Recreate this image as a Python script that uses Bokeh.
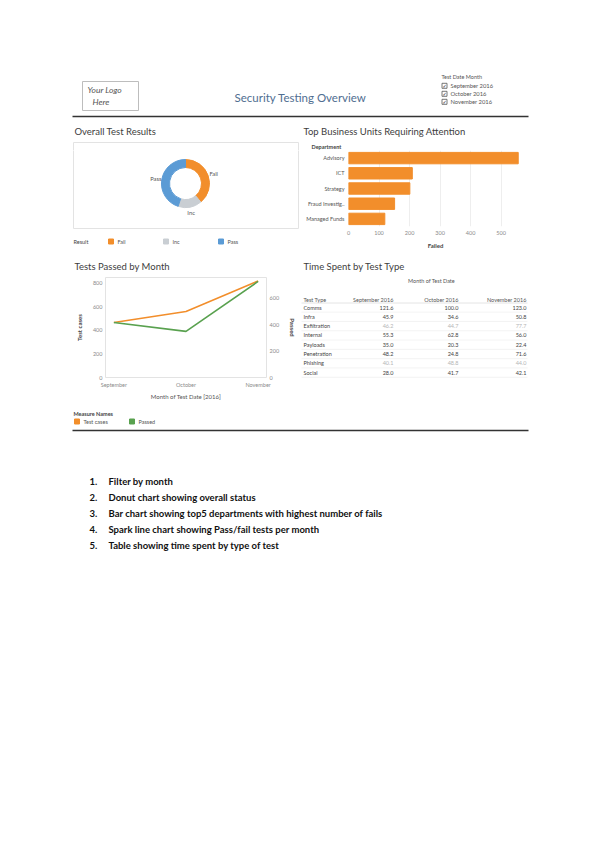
import math
from bokeh.plotting import figure
from bokeh.layouts import column, row, Spacer
from bokeh.models import (Range1d, FactorRange, ColumnDataSource, LinearAxis,
                          SingleIntervalTicker, FixedTicker)
from bokeh.core.properties import value
from bokeh.embed import file_html
from bokeh.resources import INLINE

# ---------------- data ----------------
dashboard_title = "Security Testing Overview"
filter_title = "Test Date Month"
filter_months = ["September 2016", "October 2016", "November 2016"]

results = ["Fail", "Inc", "Pass"]
result_counts = [1300, 530, 1500]

departments = ["Advisory", "ICT", "Strategy", "Fraud Investig..", "Managed Funds"]
failed = [556, 209, 201, 151, 119]

months = ["September", "October", "November"]
test_cases = [468, 562, 822]
passed = [418, 350, 729]

table_months = ["September 2016", "October 2016", "November 2016"]
test_types = ["Comms", "Infra", "Exfiltration", "Internal", "Payloads",
              "Penetration", "Phishing", "Social"]
time_sep = [121.6, 45.9, 46.2, 55.3, 35.0, 48.2, 40.1, 28.0]
time_oct = [100.0, 34.6, 44.7, 62.8, 20.3, 24.8, 48.8, 41.7]
time_nov = [123.0, 50.8, 77.7, 56.0, 22.4, 71.6, 44.0, 42.1]
faded_types = ["Exfiltration", "Phishing"]

notes = ["Filter by month",
         "Donut chart showing overall status",
         "Bar chart showing top5 departments with highest number of fails",
         "Spark line chart showing Pass/fail tests per month",
         "Table showing time spent by type of test"]

# ---------------- styles ----------------
FONT = "Lato"
ORANGE = "#F28E2B"
GREY = "#C9CED3"
BLUE = "#5B9BD5"
GREEN = "#59A14F"
result_colors = [ORANGE, GREY, BLUE]
TITLE_C = "#3d3d3d"
LABEL_C = "#555555"
TICK_C = "#8a8a8a"
BOX_C = "#e3e3e3"


def canvas(x0, x1, y0, y1):
    p = figure(width=x1 - x0, height=y1 - y0,
               x_range=Range1d(x0, x1), y_range=Range1d(-y1, -y0),
               x_axis_type=None, y_axis_type=None,
               toolbar_location=None, output_backend="svg", min_border=0)
    p.frame_align = False
    p.outline_line_color = None
    p.background_fill_color = "white"
    p.border_fill_color = "white"
    return p


def txt(p, x, y, s, size=6.0, color=LABEL_C, align="left", style="normal",
        font=FONT, angle=0.0):
    p.text(x=[x], y=[-y], text=[s], text_font=value(font),
           text_font_size=f"{size}px", text_color=color, text_align=align,
           text_baseline="middle", text_font_style=style, angle=angle)


def hline(p, x0, x1, y, color, width=1.0):
    p.segment(x0=[x0], y0=[-y], x1=[x1], y1=[-y], line_color=color, line_width=width)


def box(p, l, r, t, b, fill=None, line=None, lw=1.0):
    p.quad(left=[l], right=[r], top=[-t], bottom=[-b], fill_color=fill,
           line_color=line, line_width=lw)


def style_axis(ax, size="5.5px"):
    ax.axis_line_color = None
    ax.major_tick_line_color = None
    ax.minor_tick_line_color = None
    ax.major_tick_out = 0
    ax.major_tick_in = 0
    ax.minor_tick_out = 0
    ax.minor_tick_in = 0
    ax.major_label_text_font = FONT
    ax.major_label_text_font_size = size
    ax.major_label_text_color = TICK_C
    ax.axis_label_text_font = FONT
    ax.axis_label_text_font_size = "6px"
    ax.axis_label_text_font_style = "bold"
    ax.axis_label_text_color = "#444444"


def sp(w, h):
    return Spacer(width=w, height=h)


# ---------------- header ----------------
hd = canvas(0, 600, 0, 122)
box(hd, 82, 138, 81, 110, line="#bdbdbd")
txt(hd, 87, 89, "Your Logo", size=8.5, color="#555555", style="italic")
txt(hd, 92, 101.5, "Here", size=8.5, color="#555555", style="italic")
txt(hd, 300, 97, dashboard_title, size=11.5, color="#4F6E91", align="center")
txt(hd, 441, 76.5, filter_title, size=5.5, color="#555555")
for i, m in enumerate(filter_months):
    yc = 85.3 + 8 * i
    box(hd, 441.5, 446.5, yc - 2.5, yc + 2.5, fill="white", line="#555555", lw=0.8)
    txt(hd, 444, yc, "\u2713", size=5, color="#222222", align="center", font="DejaVu Sans")
    txt(hd, 450, yc, m, size=5.8, color="#555555")
hline(hd, 72, 528, 116, "#333333", 1.5)

# ---------------- donut (two bands) ----------------
dt = canvas(72, 300, 122, 150)
txt(dt, 74, 131, "Overall Test Results", size=9.5, color=TITLE_C)
box(dt, 73, 298, 142, 152, line=BOX_C)

dp = canvas(72, 300, 150, 252)
box(dp, 73, 298, 148, 228, line=BOX_C)
cx, cy, lr = 185.0, -183.0, 30.0
total = float(sum(result_counts))
cum = 0.0
starts, ends, lxs, lys = [], [], [], []
for c in result_counts:
    f0 = cum / total
    cum += c
    f1 = cum / total
    starts.append(math.pi / 2 - 2 * math.pi * f1)
    ends.append(math.pi / 2 - 2 * math.pi * f0)
    mid = math.pi / 2 - math.pi * (f0 + f1)
    lxs.append(cx + lr * math.cos(mid))
    lys.append(cy + lr * math.sin(mid))
dsrc = ColumnDataSource(dict(start=starts, end=ends, color=result_colors,
                             label=results, lx=lxs, ly=lys))
dp.annular_wedge(x=cx, y=cy, inner_radius=16, outer_radius=24,
                 start_angle="start", end_angle="end", color="color", source=dsrc)
dp.text(x="lx", y="ly", text="label", source=dsrc, text_font=value(FONT),
        text_font_size="5.8px", text_color=LABEL_C, text_align="center",
        text_baseline="middle")
txt(dp, 73, 241, "Result", size=5.5, color="#444444")
for i, (r, col) in enumerate(zip(results, result_colors)):
    x0 = 108 + 55 * i
    box(dp, x0, x0 + 5, 238.5, 243.5, fill=col, line=col)
    txt(dp, x0 + 9, 241, r, size=5.5, color=LABEL_C)

# ---------------- bar chart ----------------
bh = canvas(300, 528, 122, 150)
txt(bh, 303, 131, "Top Business Units Requiring Attention", size=9.5, color=TITLE_C)
txt(bh, 311, 146.5, "Department", size=5.5, color="#444444", style="bold")

bp = figure(width=228, height=102, y_range=FactorRange(factors=list(reversed(departments))),
            x_range=Range1d(0, 570), toolbar_location=None, output_backend="svg",
            min_border_left=48, min_border_right=6, min_border_top=0, min_border_bottom=26)
bp.frame_align = False
bp.hbar(y=departments, right=failed, height=0.75, color=ORANGE)
bp.outline_line_color = None
bp.ygrid.visible = False
bp.xgrid.grid_line_color = "#eeeeee"
bp.xaxis.ticker = SingleIntervalTicker(interval=100)
bp.xaxis.axis_label = "Failed"
style_axis(bp.xaxis[0])
style_axis(bp.yaxis[0])
bp.yaxis.major_label_text_color = LABEL_C
bp.xaxis.major_label_standoff = 4
bp.xaxis.axis_label_standoff = 4
bp.yaxis.major_label_standoff = 4

# ---------------- line chart ----------------
lh = canvas(72, 300, 252, 276)
txt(lh, 74, 266, "Tests Passed by Month", size=9.5, color=TITLE_C)

month_idx = list(range(len(months)))
lp = figure(width=228, height=126, x_range=Range1d(-0.116, 2.116), y_range=Range1d(0, 851),
            toolbar_location=None, output_backend="svg",
            min_border_left=31, min_border_right=34, min_border_top=1, min_border_bottom=24)
lp.frame_align = False
lp.extra_y_ranges = {"passed": Range1d(0, 759)}
lp.line(month_idx, test_cases, line_color=ORANGE, line_width=1.6)
lp.line(month_idx, passed, line_color=GREEN, line_width=1.6, y_range_name="passed")
lp.xgrid.visible = False
lp.ygrid.visible = False
lp.outline_line_color = BOX_C
lp.xaxis.ticker = FixedTicker(ticks=month_idx)
lp.xaxis.major_label_overrides = {i: m for i, m in enumerate(months)}
lp.xaxis.axis_label = "Month of Test Date [2016]"
lp.yaxis.ticker = SingleIntervalTicker(interval=200)
lp.yaxis.axis_label = "Test cases"
ra = LinearAxis(y_range_name="passed", axis_label="Passed",
                ticker=SingleIntervalTicker(interval=200))
lp.add_layout(ra, "right")
for ax in [lp.xaxis[0], lp.yaxis[0], ra]:
    style_axis(ax)
lp.xaxis.major_label_standoff = 4
lp.xaxis.axis_label_standoff = 2
lp.xaxis.axis_label_text_font_style = "normal"
lp.xaxis.axis_label_text_color = LABEL_C
for ax in [lp.yaxis[0], ra]:
    ax.major_label_standoff = 3
    ax.axis_label_standoff = 7

ll = canvas(72, 300, 402, 428)
txt(ll, 73, 413.5, "Measure Names", size=5.5, color="#444444", style="bold")
for x0, col, name in [(74, ORANGE, "Test cases"), (129, GREEN, "Passed")]:
    box(ll, x0, x0 + 5, 418.5, 423.5, fill=col, line=col)
    txt(ll, x0 + 9, 421, name, size=5.5, color=LABEL_C)

# ---------------- table ----------------
th = canvas(300, 528, 252, 276)
txt(th, 303, 266, "Time Spent by Test Type", size=9.5, color=TITLE_C)

tp = canvas(300, 528, 276, 402)
txt(tp, 431, 280.5, "Month of Test Date", size=5.5, color=LABEL_C, align="center")
col_right = [393, 458, 526]
txt(tp, 303, 299, "Test Type", size=5.5, color=LABEL_C)
for xr, m in zip(col_right, table_months):
    txt(tp, xr, 299, m, size=5.5, color=LABEL_C, align="right")
hline(tp, 301, 527, 302.5, "#dddddd", 0.8)
y_first, step = 307.0, 9.3
for i, t in enumerate(test_types):
    yr = y_first + step * i
    txt(tp, 303, yr, t, size=5.5, color="#444444")
    vc = "#b5b5b5" if t in faded_types else "#444444"
    for xr, vals in zip(col_right, [time_sep, time_oct, time_nov]):
        txt(tp, xr, yr, f"{vals[i]:.1f}", size=5.5, color=vc, align="right")
    hline(tp, 301, 527, yr + step / 2, "#f0f0f0", 0.8)

# ---------------- bottom ----------------
bt = canvas(0, 600, 428, 570)
hline(bt, 72, 528, 430, "#333333", 1.5)
for i, n in enumerate(notes):
    yy = 481 + 16 * i
    txt(bt, 89, yy, f"{i + 1}.", size=9.5, color="#111111", style="bold")
    txt(bt, 108, yy, n, size=9.5, color="#111111", style="bold")

layout = column(
    hd,
    row(sp(72, 28), dt, bh, sp(72, 28)),
    row(sp(72, 102), dp, bp, sp(72, 102)),
    row(sp(72, 24), lh, th, sp(72, 24)),
    row(sp(72, 126), lp, tp, sp(72, 126)),
    row(sp(72, 26), ll, sp(228, 26), sp(72, 26)),
    bt,
)

open("out.html", "w").write(file_html(layout, INLINE))
